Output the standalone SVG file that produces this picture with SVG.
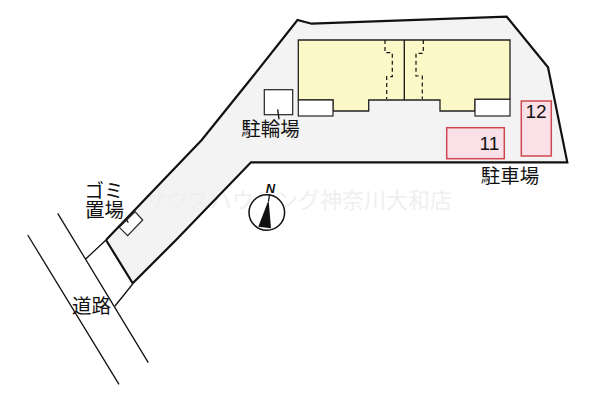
<svg xmlns="http://www.w3.org/2000/svg" width="600" height="400" viewBox="0 0 600 400">
<style>
text{font-family:"Noto Sans CJK JP","Liberation Sans",sans-serif;fill:#111}
.l{font-size:19.500px;text-anchor:middle}
.n{font-family:"Liberation Sans",sans-serif;font-size:19px}
.wm{font-family:"Liberation Serif","Noto Sans CJK JP",serif;font-size:22px;fill:#efefef}
.ln{fill:none;stroke:#111;stroke-width:1.300}
.dash{fill:none;stroke:#111;stroke-width:1.200;stroke-dasharray:4 3}
.p{fill:#fbe0e8;stroke:#d0484f;stroke-width:1.500}
.w{fill:#fff;stroke:#222;stroke-width:1.200}
</style>
<rect width="600" height="400" fill="#fff"/>
<g id="site">
<path d="M297.500 20 L311.700 23.700 L506.700 16.700 L548 67.300 L567.300 162.300 L251 162.300 L176 240 L132.700 283.300 L106 240 L173 170 L201.700 140 L250 80 Z" fill="#f3f3f3"/>
</g>
<text class="wm" x="144" y="208">サウスハウジング神奈川大和店</text>
<g id="connectors">
<path class="ln" style="stroke-width:2.200" d="M106 240 L173 170 L201.700 140 L250 80 L297.500 20 L311.700 23.700 L506.700 16.700 L548 67.300 L567.300 162.300 L251 162.300 L176 240 L132.700 283.300 L106 240"/>
<path class="ln" d="M57.700 213.300 L148.300 362.700 M27.700 235 L119 384.300 M86 258.700 L106 240 M115 306 L132.700 284"/>
</g>
<g id="building">
<path d="M298.300 40 H510 V99.300 H475 V111 H440 V100 H368.700 V111 H333 V100 H298.300 Z" fill="#fdf8c8" stroke="#222" stroke-width="1.300"/>
<path class="ln" d="M404.300 40 V100"/>
<path class="dash" d="M385 40 V52.700 H392.300 V76.700 H386.700 V99 M423.300 40 V53.300 H416 V76 H422.300 V99"/>
<rect class="w" x="298.300" y="100" width="34.700" height="16"/>
<rect class="w" x="475" y="99.300" width="35" height="16.700"/>
</g>
<g id="bike-parking">
<rect class="w" x="264.300" y="89.700" width="28.400" height="25"/>
<path class="ln" d="M277.700 109.300 L279 119.300"/>
<text class="l" x="270.500" y="136">駐輪場</text>
</g>
<g id="parking-11">
<rect class="p" x="446.700" y="127.700" width="57.600" height="31"/>
<text class="n" x="479.500" y="150">11</text>
</g>
<g id="parking-12">
<rect class="p" x="521.300" y="101" width="30" height="55"/>
<text class="n" x="525.500" y="118">12</text>
</g>
<text class="l" x="510" y="183">駐車場</text>
<g id="garbage">
<path class="w" d="M135 211.700 L142.700 220 L127.700 235.700 L119.300 227.300 Z"/>
<path class="ln" d="M126 219 L128.300 222.700"/>
<text class="l" x="104" y="198">ゴミ</text>
<text class="l" x="104.500" y="217">置場</text>
</g>
<text class="l" x="91.500" y="313">道路</text>
<g id="compass">
<circle cx="266.800" cy="212.500" r="17.800" fill="#fff" stroke="#111" stroke-width="1.500"/>
<path d="M268.600 200 L258.300 226.700 L271 228.300 Z" fill="#111"/>
<path class="ln" d="M269.500 194.500 L268.600 201"/>
<text x="270.500" y="192.500" style="font-family:'Liberation Sans',sans-serif;font-size:13px;font-style:italic;font-weight:700;text-anchor:middle">N</text>
</g>
</svg>
